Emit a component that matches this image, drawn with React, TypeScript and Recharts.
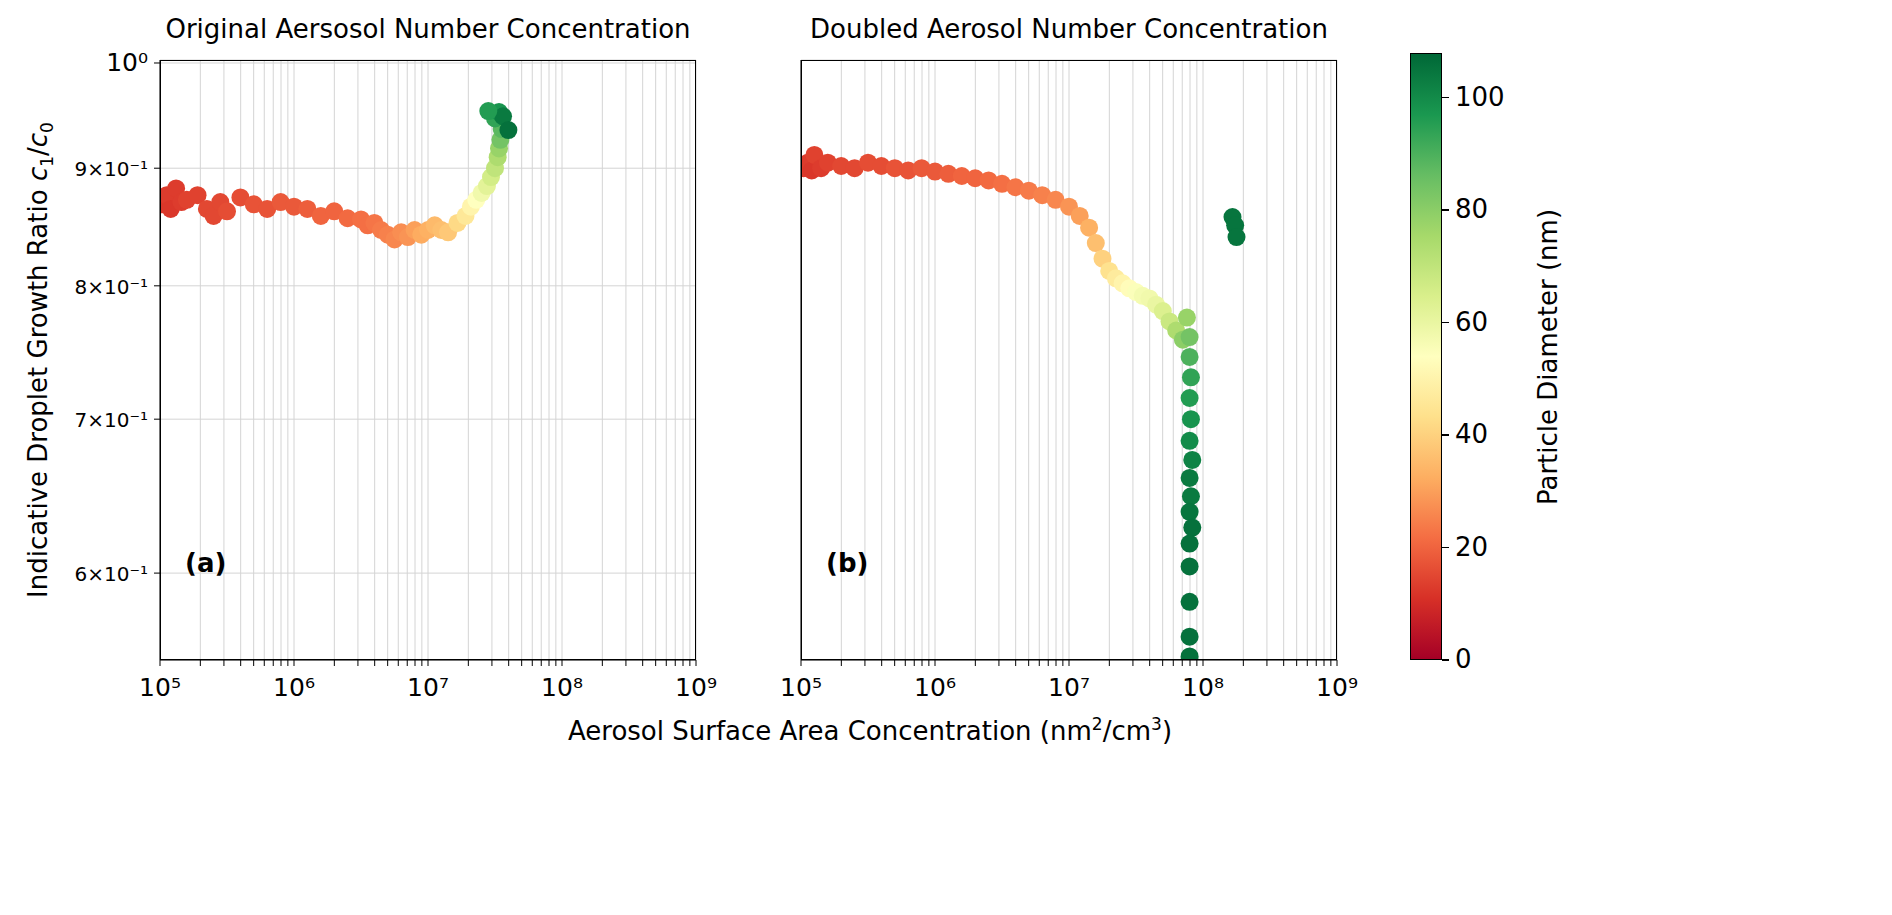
import React from 'react';
import { ScatterChart, Scatter, XAxis, YAxis, CartesianGrid } from 'recharts';

// ── data (log10 of surface area, ratio, diameter nm) ─────────────────────────

const A_LOGX = [5.02, 5.05, 5.08, 5.12, 5.16, 5.2, 5.28, 5.35, 5.4, 5.45, 5.5, 5.6, 5.7, 5.8, 5.9, 6.0, 6.1, 6.2, 6.3, 6.4, 6.5, 6.55, 6.6, 6.65, 6.7, 6.75, 6.8, 6.85, 6.9, 6.95, 7.0, 7.05, 7.1, 7.15, 7.22, 7.28, 7.32, 7.36, 7.4, 7.44, 7.47, 7.5, 7.52, 7.53, 7.54, 7.55, 7.5, 7.53, 7.56, 7.6, 7.45];
const A_Y = [0.868, 0.876, 0.864, 0.882, 0.87, 0.872, 0.876, 0.864, 0.858, 0.87, 0.862, 0.874, 0.868, 0.864, 0.87, 0.866, 0.864, 0.858, 0.862, 0.856, 0.855, 0.85, 0.852, 0.846, 0.842, 0.838, 0.844, 0.84, 0.846, 0.842, 0.846, 0.85, 0.846, 0.844, 0.852, 0.858, 0.866, 0.872, 0.878, 0.884, 0.892, 0.9, 0.91, 0.918, 0.926, 0.936, 0.946, 0.952, 0.948, 0.935, 0.953];
const A_D = [12, 13, 12, 13, 13, 14, 14, 15, 15, 15, 16, 16, 17, 17, 18, 18, 19, 20, 20, 21, 22, 22, 23, 24, 25, 26, 27, 28, 30, 32, 33, 35, 36, 38, 42, 46, 50, 54, 58, 62, 66, 70, 74, 78, 84, 88, 94, 98, 104, 106, 96];

const B_LOGX = [5.02, 5.05, 5.08, 5.1, 5.15, 5.2, 5.3, 5.4, 5.5, 5.6, 5.7, 5.8, 5.9, 6.0, 6.1, 6.2, 6.3, 6.4, 6.5, 6.6, 6.7, 6.8, 6.9, 7.0, 7.08, 7.15, 7.2, 7.25, 7.3, 7.35, 7.4, 7.45, 7.5, 7.55, 7.6, 7.65, 7.7, 7.75, 7.8, 7.85, 7.88, 7.9, 7.9, 7.91, 7.9, 7.91, 7.9, 7.92, 7.9, 7.91, 7.9, 7.92, 7.9, 7.9, 7.9, 7.9, 7.9, 8.22, 8.24, 8.25];
const B_Y = [0.9, 0.905, 0.898, 0.912, 0.9, 0.905, 0.902, 0.9, 0.905, 0.902, 0.9, 0.898, 0.9, 0.897, 0.895, 0.893, 0.891, 0.889, 0.886, 0.883, 0.88, 0.876, 0.872, 0.866, 0.858, 0.848, 0.835, 0.822, 0.812, 0.806, 0.802, 0.798, 0.795, 0.792, 0.79, 0.785, 0.78, 0.772, 0.765, 0.758, 0.775, 0.76, 0.745, 0.73, 0.715, 0.7, 0.685, 0.672, 0.66, 0.648, 0.638, 0.628, 0.618, 0.604, 0.583, 0.563, 0.552, 0.857, 0.85, 0.84];
const B_D = [13, 13, 12, 14, 13, 14, 15, 15, 16, 16, 17, 17, 18, 18, 19, 20, 20, 21, 22, 23, 24, 25, 26, 28, 30, 33, 36, 40, 44, 47, 50, 53, 55, 57, 58, 60, 64, 68, 74, 80, 78, 84, 90, 94, 96, 98, 100, 102, 104, 104, 105, 106, 106, 106, 106, 106, 106, 105, 105, 105];

const X_MAJOR = [5, 6, 7, 8, 9];
const Y_TICKS = [0.6, 0.7, 0.8, 0.9, 1.0];
const CB_TICKS = [0, 20, 40, 60, 80, 100];
const D_MAX = 108;

// ── colormap ─────────────────────────────────────────────────────────────────

const RDYLGN = ['#a50026', '#d73027', '#f46d43', '#fdae61', '#fee08b', '#ffffbf', '#d9ef8b', '#a6d96a', '#66bd63', '#1a9850', '#006837'];

function hex(h: string) {
  return [1, 3, 5].map(i => parseInt(h.slice(i, i + 2), 16));
}
function cmap(d: number) {
  const t = Math.max(0, Math.min(1, d / D_MAX)) * (RDYLGN.length - 1);
  const i = Math.min(Math.floor(t), RDYLGN.length - 2);
  const f = t - i;
  const a = hex(RDYLGN[i]), b = hex(RDYLGN[i + 1]);
  const c = a.map((v, k) => Math.round(v + (b[k] - v) * f));
  return `rgb(${c[0]},${c[1]},${c[2]})`;
}

const build = (lx: number[], y: number[], d: number[]) =>
  lx.map((v, i) => ({ x: Math.pow(10, v), y: y[i], c: cmap(d[i]) }));

const X_TICKS: number[] = [];
X_MAJOR.forEach(e => {
  for (let m = 1; m <= 9; m++) if (e < 9 || m === 1) X_TICKS.push(m * Math.pow(10, e));
});

const SUP: Record<string, string> = { '0': '⁰', '1': '¹', '5': '⁵', '6': '⁶', '7': '⁷', '8': '⁸', '9': '⁹', '-': '⁻' };
const sup = (s: string) => s.split('').map(c => SUP[c] ?? c).join('');

const FONT = "'DejaVu Sans', sans-serif";

function XTick(props: any) {
  const { x, y, payload } = props;
  const e = Math.log10(payload.value);
  if (Math.abs(e - Math.round(e)) > 1e-6) return null;
  return (
    <text x={x} y={y + 28} textAnchor="middle" fontSize={25} fill="#000" fontFamily={FONT}>
      {'10' + sup(String(Math.round(e)))}
    </text>
  );
}

function YTick(props: any) {
  const { x, y, payload } = props;
  const v = payload.value;
  const label = v >= 0.999 ? '10' + sup('0') : `${Math.round(v * 10)}×10${sup('-1')}`;
  return (
    <text x={x - 4} y={y + 8} textAnchor="end" fontSize={v >= 0.999 ? 25 : 20} fill="#000" fontFamily={FONT}>
      {label}
    </text>
  );
}

const dot = (p: any) => <circle cx={p.cx} cy={p.cy} r={9} fill={p.payload.c} />;

function Panel({ data, left, yw, labels }: { data: any[]; left: number; yw: number; labels: boolean }) {
  const w = 536 + yw + 40;
  return (
    <div style={{ position: 'absolute', left, top: 0 }}>
      <ScatterChart width={w} height={760} margin={{ top: 60, right: 40, bottom: 60, left: 0 }}>
        <CartesianGrid stroke="#d4d4d4" strokeWidth={1} />
        <XAxis type="number" dataKey="x" scale="log" domain={[1e5, 1e9]} ticks={X_TICKS}
          allowDataOverflow interval={0} height={40} tick={<XTick />} stroke="#000"
          tickSize={6} />
        <YAxis type="number" dataKey="y" scale="log" domain={[0.55, 1.003]} ticks={Y_TICKS}
          allowDataOverflow interval={0} width={yw} tick={labels ? <YTick /> : false} stroke="#000" tickSize={6} />
        <Scatter data={data} shape={dot} isAnimationActive={false} />
      </ScatterChart>
      <div style={{ position: 'absolute', left: yw, top: 60, width: 536, height: 600, border: '1.5px solid #000', boxSizing: 'border-box', pointerEvents: 'none' }} />
    </div>
  );
}

export default function App() {
  const txt: React.CSSProperties = { position: 'absolute', fontFamily: FONT, color: '#000', whiteSpace: 'nowrap' };
  const grad = `linear-gradient(to top, ${RDYLGN.join(', ')})`;
  return (
    <div style={{ position: 'absolute', left: 0, top: 0, width: 1892, height: 915, background: '#fff' }}>
      <Panel data={build(A_LOGX, A_Y, A_D)} left={0} yw={160} labels />
      <Panel data={build(B_LOGX, B_Y, B_D)} left={741} yw={60} labels={false} />

      <div style={{ ...txt, left: 428, top: 14, fontSize: 26, transform: 'translateX(-50%)' }}>Original Aersosol Number Concentration</div>
      <div style={{ ...txt, left: 1069, top: 14, fontSize: 26, transform: 'translateX(-50%)' }}>Doubled Aerosol Number Concentration</div>
      <div style={{ ...txt, left: 185, top: 548, fontSize: 26, fontWeight: 'bold' }}>(a)</div>
      <div style={{ ...txt, left: 826, top: 548, fontSize: 26, fontWeight: 'bold' }}>(b)</div>
      <div style={{ ...txt, left: 870, top: 714, fontSize: 26, transform: 'translateX(-50%)' }}>
        Aerosol Surface Area Concentration (nm<sup style={{ fontSize: 17 }}>2</sup>/cm<sup style={{ fontSize: 17 }}>3</sup>)
      </div>
      <div style={{ ...txt, left: 40, top: 360, fontSize: 26, transform: 'translate(-50%,-50%) rotate(-90deg)' }}>
        Indicative Droplet Growth Ratio <i>c</i><sub style={{ fontSize: 17 }}>1</sub>/<i>c</i><sub style={{ fontSize: 17 }}>0</sub>
      </div>

      {/* colorbar */}
      <div style={{ position: 'absolute', left: 1410, top: 53, width: 32, height: 607, background: grad, border: '1.5px solid #000', boxSizing: 'border-box' }} />
      {CB_TICKS.map(t => {
        const y = 660 - (t / D_MAX) * 607;
        return (
          <React.Fragment key={t}>
            <div style={{ position: 'absolute', left: 1442, top: y - 1, width: 7, height: 1.5, background: '#000' }} />
            <div style={{ ...txt, left: 1455, top: y - 16, fontSize: 26 }}>{t}</div>
          </React.Fragment>
        );
      })}
      <div style={{ ...txt, left: 1548, top: 357, fontSize: 26, transform: 'translate(-50%,-50%) rotate(-90deg)' }}>Particle Diameter (nm)</div>
    </div>
  );
}
